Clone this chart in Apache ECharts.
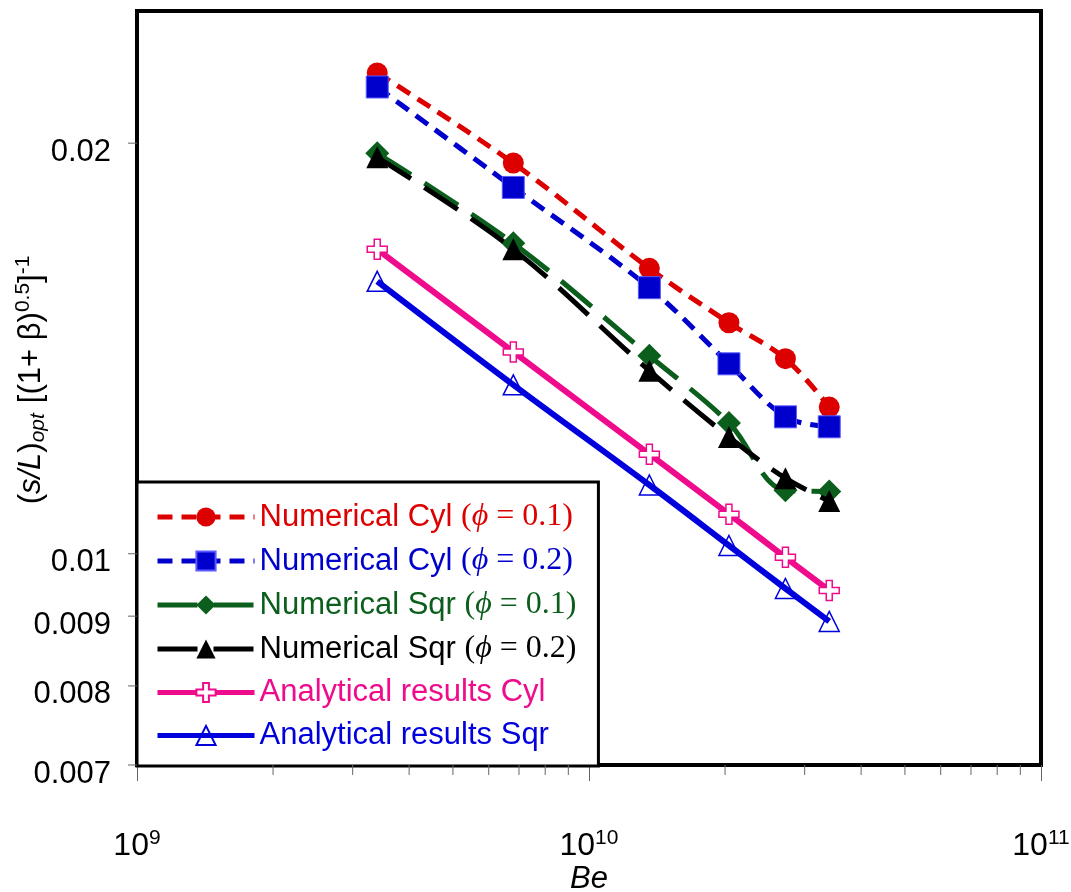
<!DOCTYPE html>
<html>
<head>
<meta charset="utf-8">
<script src="https://cdn.jsdelivr.net/npm/echarts@6/dist/echarts.min.js"></script>
<style>
html,body{margin:0;padding:0;background:#fff;}
#chart{width:1071px;height:892px;}
</style>
</head>
<body>
<div id="chart"></div>
<script>
// ---- data ----
const be = [3.4e9, 6.8e9, 1.36e10, 2.04e10, 2.72e10, 3.4e10];
const numCyl01 = [0.02252, 0.01934, 0.01619, 0.01477, 0.01390, 0.01281];
const numCyl02 = [0.02199, 0.01856, 0.01567, 0.01378, 0.01260, 0.01239];
const numSqr01 = [0.01966, 0.01689, 0.01397, 0.01247, 0.01113, 0.01111];
const numSqr02 = [0.01953, 0.01672, 0.01362, 0.01218, 0.01136, 0.01093];
const anaCyl   = [0.01672, 0.01406, 0.01183, 0.01069, 0.00994, 0.00940];
const anaSqr   = [0.01584, 0.01330, 0.01123, 0.01014, 0.00943, 0.00892];
const seriesNames = [
  'Numerical Cyl (ϕ = 0.1)',
  'Numerical Cyl (ϕ = 0.2)',
  'Numerical Sqr (ϕ = 0.1)',
  'Numerical Sqr (ϕ = 0.2)',
  'Analytical results Cyl',
  'Analytical results Sqr'
];
const xMin = 1e9, xMax = 1e11;
const yMin = 0.007, yMax = 0.025;
const xMinorTicks = [2e9,3e9,4e9,5e9,6e9,7e9,8e9,9e9,2e10,3e10,4e10,5e10,6e10,7e10,8e10,9e10];
const yTickValues = [0.007, 0.008, 0.009, 0.01, 0.02];
const yTickLabels = ['0.007', '0.008', '0.009', '0.01', '0.02'];

// ---- style ----
const C = {
  red: '#dd0000', blue: '#0000cc', green: '#0b5e1c', black: '#000000',
  pink: '#ee0b8c', blue2: '#0000dd'
};
const crossPath = 'path://M7,0 L13,0 L13,7 L20,7 L20,13 L13,13 L13,20 L7,20 L7,13 L0,13 L0,7 L7,7 Z';

function pairs(ys){ return be.map((x,i)=>[x, ys[i]]); }

function richFor(color){
  return {
    t: {color: color, fontFamily: 'Liberation Sans', fontSize: 31, lineHeight: 34},
    p: {color: color, fontFamily: 'Liberation Serif', fontSize: 32, lineHeight: 34},
    f: {color: color, fontFamily: 'Liberation Serif', fontStyle: 'italic', fontSize: 32, lineHeight: 34}
  };
}
const legendColors = [C.red, C.blue, C.green, C.black, C.pink, C.blue2];

const chart = echarts.init(document.getElementById('chart'), null, {renderer: 'canvas'});

const option = {
  animation: false,
  backgroundColor: '#fff',
  grid: {
    left: 137, right: 30, top: 11, bottom: 127,
    containLabel: false, outerBoundsMode: 'none',
    show: true, borderColor: '#000', borderWidth: 4, backgroundColor: 'transparent'
  },
  xAxis: {
    type: 'log', logBase: 10, min: xMin, max: xMax,
    axisLine: {show: false},
    axisTick: {show: true, inside: false, length: 16, lineStyle: {color: '#666', width: 1}},
    splitLine: {show: false},
    axisLabel: {
      margin: 63,
      formatter: function(v){ return '{b|10}{s|' + Math.round(Math.log10(v)) + '}'; },
      rich: {
        b: {fontFamily: 'Liberation Sans', fontSize: 32, color: '#000', lineHeight: 36},
        s: {fontFamily: 'Liberation Sans', fontSize: 21, color: '#000', verticalAlign: 'top', lineHeight: 21}
      }
    },
    name: 'Be', nameLocation: 'middle', nameGap: 99, nameMoveOverlap: false,
    nameTextStyle: {fontFamily: 'Liberation Sans', fontSize: 31, fontStyle: 'italic', color: '#000'}
  },
  yAxis: {
    type: 'log', logBase: 10, min: yMin, max: yMax,
    axisLine: {show: false}, axisTick: {show: false}, axisLabel: {show: false}, splitLine: {show: false}
  },
  legend: {
    orient: 'vertical', left: 137, top: 482,
    padding: [19, 22, 15, 18],
    backgroundColor: '#fff', borderColor: '#000', borderWidth: 3,
    itemWidth: 97, itemHeight: 24, itemGap: 12, itemTextGap: 8,
    lineStyle: {width: 5},
    selectedMode: false,
    formatter: function(name){
      const m = name.match(/^(.*) \(ϕ = (.*)\)$/);
      if (!m) return '{t|' + name + '}';
      return '{t|' + m[1] + ' }{p|(}{f|ϕ}{p| = ' + m[2] + ')}';
    },
    data: seriesNames.map((n,i)=>({name: n, textStyle: {color: legendColors[i], rich: richFor(legendColors[i])}}))
  },
  graphic: [{
    type: 'text', z: 10,
    x: 31, y: 380, rotation: Math.PI/2,
    style: {
      text: '{n|(}{i|s/L}{n|)}{sub|opt}   {n|[(1+ β)}{sup|0.5}{n|]}{sup|-1}',
      x: 0, y: 0, align: 'center', verticalAlign: 'middle',
      rich: {
        i: {fontFamily: 'Liberation Sans', fontStyle: 'italic', fontSize: 31, fill: '#000', lineHeight: 36},
        n: {fontFamily: 'Liberation Sans', fontSize: 31, fill: '#000', lineHeight: 36},
        sub: {fontFamily: 'Liberation Sans', fontStyle: 'italic', fontSize: 21, fill: '#000', verticalAlign: 'bottom', lineHeight: 20},
        sup: {fontFamily: 'Liberation Sans', fontSize: 21, fill: '#000', verticalAlign: 'top', lineHeight: 20}
      }
    }
  }],
  series: [
    {
      name: seriesNames[0], type: 'line', data: pairs(numCyl01), smooth: 0.35,
      symbol: 'circle', symbolSize: 21,
      itemStyle: {color: C.red},
      lineStyle: {color: C.red, width: 5, type: [15, 9]}, z: 3
    },
    {
      name: seriesNames[1], type: 'line', data: pairs(numCyl02), smooth: 0.35,
      symbol: 'rect', symbolSize: 22,
      itemStyle: {color: C.blue, borderColor: '#5a5aff', borderWidth: 1},
      lineStyle: {color: C.blue, width: 5, type: [15, 9]}, z: 4
    },
    {
      name: seriesNames[2], type: 'line', data: pairs(numSqr01), smooth: 0.35,
      symbol: 'diamond', symbolSize: 24,
      itemStyle: {color: C.green},
      lineStyle: {color: C.green, width: 5, type: [40, 16]}, z: 3
    },
    {
      name: seriesNames[3], type: 'line', data: pairs(numSqr02), smooth: 0.35,
      symbol: 'triangle', symbolSize: 22,
      itemStyle: {color: C.black},
      lineStyle: {color: C.black, width: 5, type: [40, 16]}, z: 4
    },
    {
      name: seriesNames[4], type: 'line', data: pairs(anaCyl), smooth: 0.35,
      symbol: crossPath, symbolSize: 20,
      itemStyle: {color: '#ffffff', borderColor: C.pink, borderWidth: 1.5},
      lineStyle: {color: C.pink, width: 6, type: 'solid'}, z: 3
    },
    {
      name: seriesNames[5], type: 'line', data: pairs(anaSqr), smooth: 0.35,
      symbol: 'triangle', symbolSize: 20,
      itemStyle: {color: 'rgba(255,255,255,0)', borderColor: C.blue2, borderWidth: 1.5},
      lineStyle: {color: C.blue2, width: 6, type: 'solid'}, z: 3
    },
    {
      name: 'xMinorTicks', type: 'custom', clip: false, silent: true, z: 5,
      data: xMinorTicks.map(v => [v, yMin]),
      renderItem: function(params, api){
        const p = api.coord([api.value(0), api.value(1)]);
        return {type: 'line', shape: {x1: p[0], y1: p[1], x2: p[0], y2: p[1] + 10},
                style: {stroke: '#666', lineWidth: 1}};
      }
    },
    {
      name: 'yTicks', type: 'custom', clip: false, silent: true, z: 5,
      data: yTickValues.map((v,i) => [xMin, v, i]),
      renderItem: function(params, api){
        const p = api.coord([api.value(0), api.value(1)]);
        const label = yTickLabels[api.value(2)];
        return {type: 'group', children: [
          {type: 'line', shape: {x1: p[0] - 9, y1: p[1], x2: p[0], y2: p[1]},
           style: {stroke: '#666', lineWidth: 1}},
          {type: 'text', x: p[0] - 26, y: p[1] + 9,
           style: {text: label, align: 'right', verticalAlign: 'middle',
                   font: '31px "Liberation Sans"', fill: '#000'}}
        ]};
      }
    }
  ]
};
chart.setOption(option);
</script>
</body>
</html>
